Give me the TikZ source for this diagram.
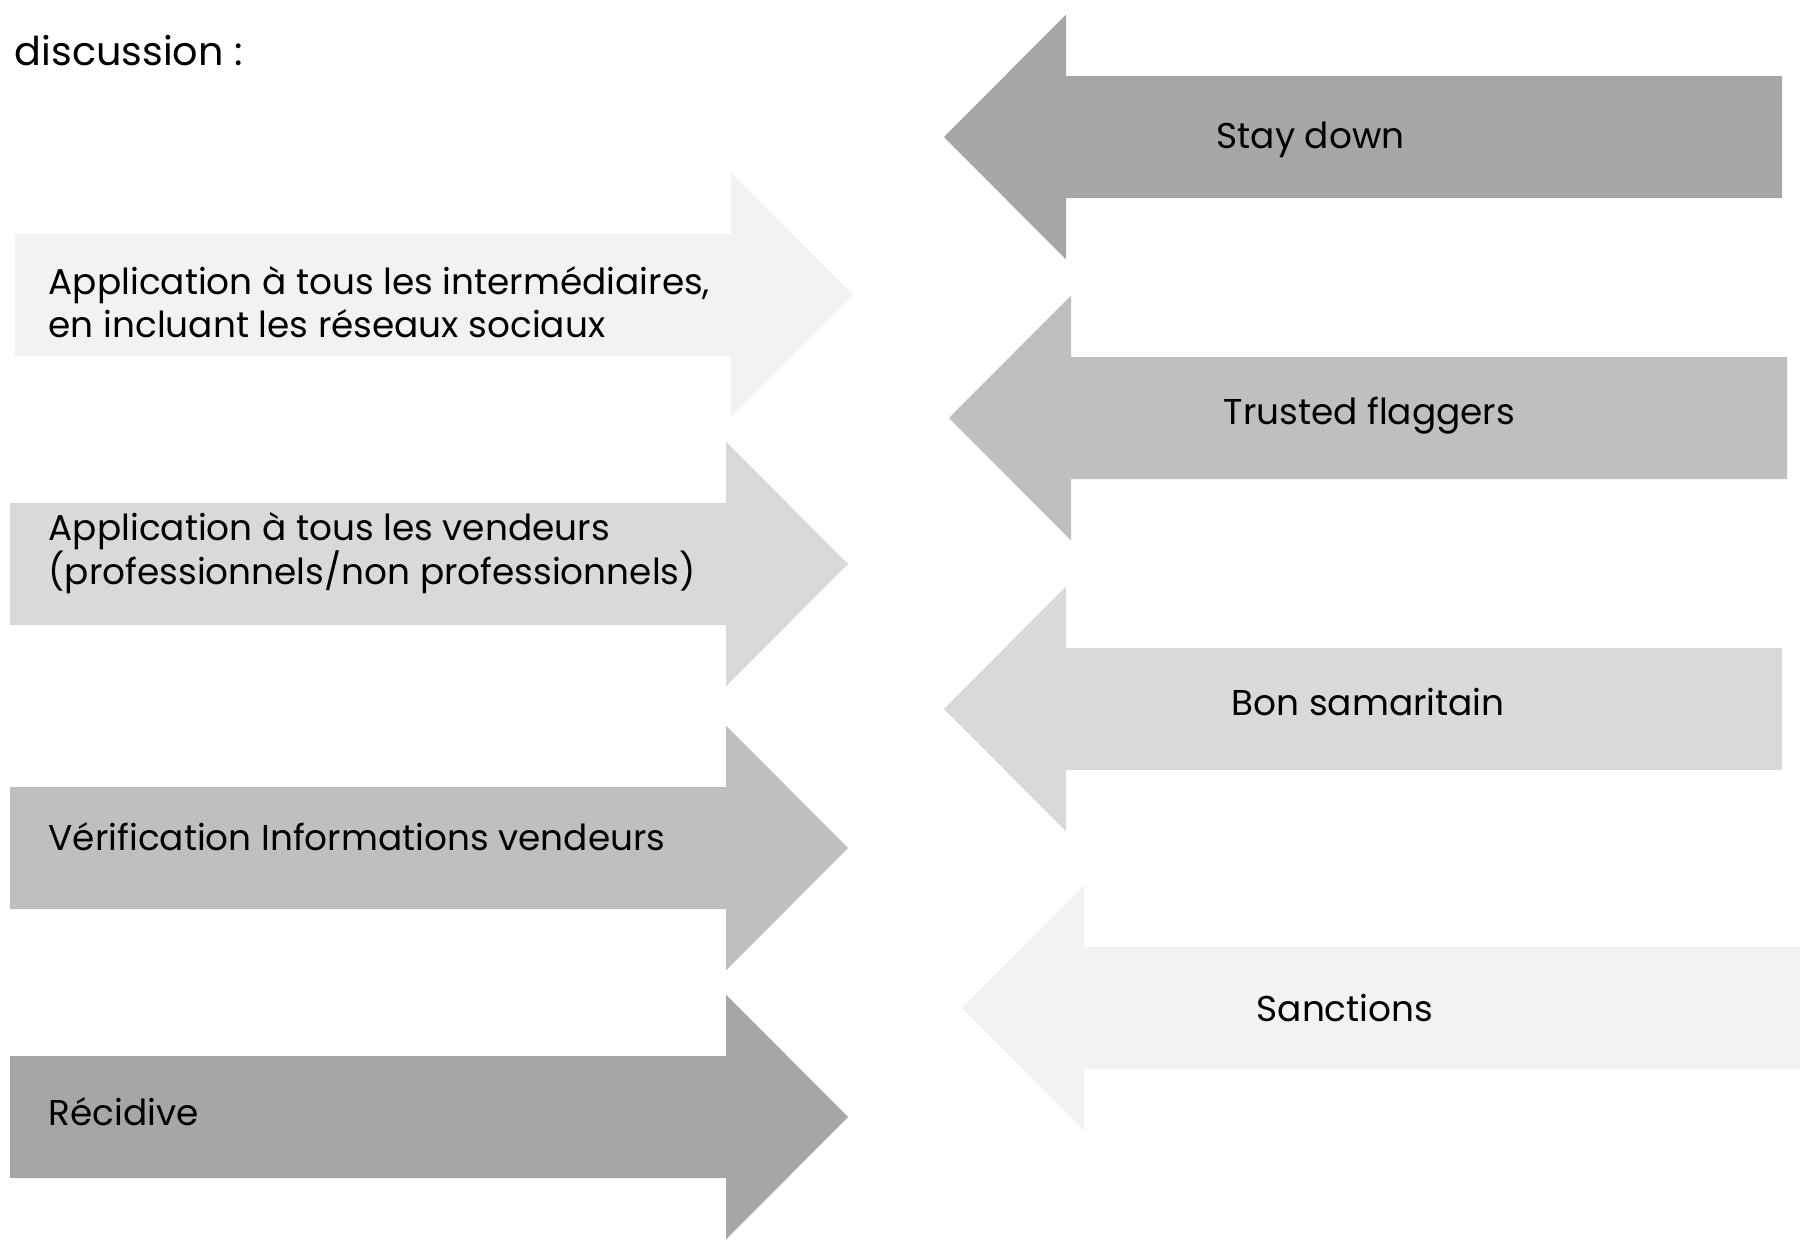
\documentclass[tikz,border=0pt]{standalone}
\usepackage{fontspec}
\setmainfont{Poppins}
\usetikzlibrary{positioning}

\definecolor{grisclair}{HTML}{F2F2F2}
\definecolor{grismoyen}{HTML}{D9D9D9}
\definecolor{grisfonce}{HTML}{BFBFBF}
\definecolor{grissombre}{HTML}{A6A6A6}

% fleche : centre de la queue x, y, couleur
\newcommand{\versdroite}[3]{%
  \fill[#3] (#1,#2) ++(0,61) -- ++(716,0) -- ++(0,61.5) -- ++(122,-122.5)
    -- ++(-122,-122.5) -- ++(0,61.5) -- ++(-716,0) -- cycle;}
\newcommand{\versgauche}[3]{%
  \fill[#3] (#1,#2) ++(0,61) -- ++(-716,0) -- ++(0,61.5) -- ++(-122,-122.5)
    -- ++(122,-122.5) -- ++(0,61.5) -- ++(716,0) -- cycle;}

\begin{document}
\begin{tikzpicture}
[x=0.01cm,y=0.01cm,%
  every node/.style={inner sep=0pt,anchor=west,align=left,%
    font=\fontsize{10.2}{12.4}\selectfont}]
\useasboundingbox (0,0) rectangle (1805,1247);
\versdroite{15}{952}{grisclair}
\versdroite{10}{683}{grismoyen}
\versdroite{10}{399}{grisfonce}
\versdroite{10}{130}{grissombre}
\versgauche{1782}{1110}{grissombre}
\versgauche{1787}{829}{grisfonce}
\versgauche{1782}{538}{grismoyen}
\versgauche{1800}{239}{grisclair}
\node (titre) [font=\fontsize{11.3}{14}\selectfont] at (14,1196) {discussion :};
\node (intermediaires) at (48,945) {Application à tous les intermédiaires,\\en incluant les réseaux sociaux};
\node (vendeurs) at (48,694) {Application à tous les vendeurs\\(professionnels/non professionnels)};
\node (verification) at (48,410) {Vérification Informations vendeurs};
\node (recidive) at (48,135) {Récidive};
\node (staydown) at (1216,1107) {Stay down};
\node (flaggers) at (1223,831) {Trusted flaggers};
\node (samaritain) at (1231,545) {Bon samaritain};
\node (sanctions) at (1256,239) {Sanctions};
\end{tikzpicture}
\end{document}
